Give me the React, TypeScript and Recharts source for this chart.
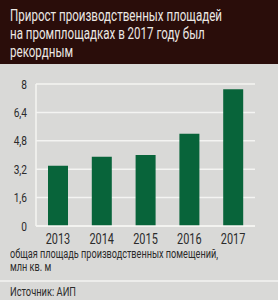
import { Bar, BarChart, CartesianGrid, XAxis, YAxis } from 'recharts'

const years = ['2013', '2014', '2015', '2016', '2017']
const area = [3.4, 3.9, 4.0, 5.2, 7.7]
const yTicks = [0, 1.6, 3.2, 4.8, 6.4, 8]

const title = ['Прирост производственных площадей', 'на промплощадках в 2017 году был', 'рекордным']
const caption = ['общая площадь производственных помещений,', 'млн кв. м']
const source = 'Источник: АИП'

const font = 'Roboto, "Noto Sans", sans-serif'
const ink = '#2b2b2b'
const squeeze = 0.78

const data = years.map((year, i) => ({ year, value: area[i] }))

let canvas: HTMLCanvasElement | null = null
function measure(text: string, size: number): number {
  if (!canvas) canvas = document.createElement('canvas')
  const ctx = canvas.getContext('2d')!
  ctx.font = `${size}px Roboto`
  return ctx.measureText(text).width
}

// lines squeezed horizontally so the first line spans `width`
function Squeezed({ lines, size, width, lineHeight }: { lines: string[]; size: number; width: number; lineHeight: number }) {
  const k = width / measure(lines[0], size)
  return (
    <div style={{ fontSize: size, lineHeight: `${lineHeight}px`, whiteSpace: 'nowrap' }}>
      {lines.map((t) => (
        <div key={t} style={{ transform: `scaleX(${k})`, transformOrigin: 'left' }}>
          {t}
        </div>
      ))}
    </div>
  )
}

function XTick({ x, y, payload }: any) {
  return (
    <text
      transform={`translate(${x},${y + 10}) scale(${squeeze},1)`}
      textAnchor="middle"
      fontSize={14}
      fontFamily={font}
      fill={ink}
    >
      {payload.value}
    </text>
  )
}

function YTick({ x, y, payload }: any) {
  return (
    <text
      transform={`translate(${x},${y}) scale(${squeeze},1)`}
      textAnchor="end"
      dy="0.36em"
      fontSize={13}
      fontFamily={font}
      fill={ink}
    >
      {String(payload.value).replace('.', ',')}
    </text>
  )
}

export default function App() {
  return (
    <div
      style={{
        position: 'fixed',
        top: 0,
        left: 0,
        width: 278,
        height: 300,
        background: '#d9d9d7',
        fontFamily: font,
        color: ink,
        overflow: 'hidden',
      }}
    >
      <div
        style={{
          height: 64,
          background: '#2a0d0a',
          color: '#ece8e4',
          padding: '6px 0 0 10px',
          boxSizing: 'border-box',
        }}
      >
        <Squeezed lines={title} size={17} width={212} lineHeight={18} />
      </div>
      <BarChart
        width={278}
        height={182}
        data={data}
        margin={{ top: 20, right: 23, bottom: 0, left: 0 }}
        barCategoryGap={12}
      >
        <CartesianGrid stroke="#f4f4f2" strokeWidth={1.5} vertical={false} />
        <XAxis
          dataKey="year"
          height={20}
          axisLine={{ stroke: '#f4f4f2', strokeWidth: 1.5 }}
          tickLine={false}
          tick={<XTick />}
        />
        <YAxis
          width={36}
          domain={[0, 8]}
          ticks={yTicks}
          interval={0}
          axisLine={{ stroke: '#f4f4f2', strokeWidth: 1.5 }}
          tickLine={false}
          tick={<YTick />}
          tickMargin={3}
        />
        <YAxis
          yAxisId="right"
          orientation="right"
          width={0}
          domain={[0, 8]}
          axisLine={{ stroke: '#f4f4f2', strokeWidth: 1.5 }}
          tickLine={false}
          tick={false}
        />
        <Bar dataKey="value" fill="#08643a" isAnimationActive={false} />
      </BarChart>
      <div style={{ position: 'absolute', top: 247, left: 10 }}>
        <Squeezed lines={caption} size={12.5} width={208} lineHeight={13} />
      </div>
      <div
        style={{
          position: 'absolute',
          top: 280,
          left: 0,
          width: 278,
          height: 2,
          background: '#ededeb',
        }}
      />
      <div style={{ position: 'absolute', top: 286, left: 10 }}>
        <Squeezed lines={[source]} size={12} width={66} lineHeight={13} />
      </div>
    </div>
  )
}
